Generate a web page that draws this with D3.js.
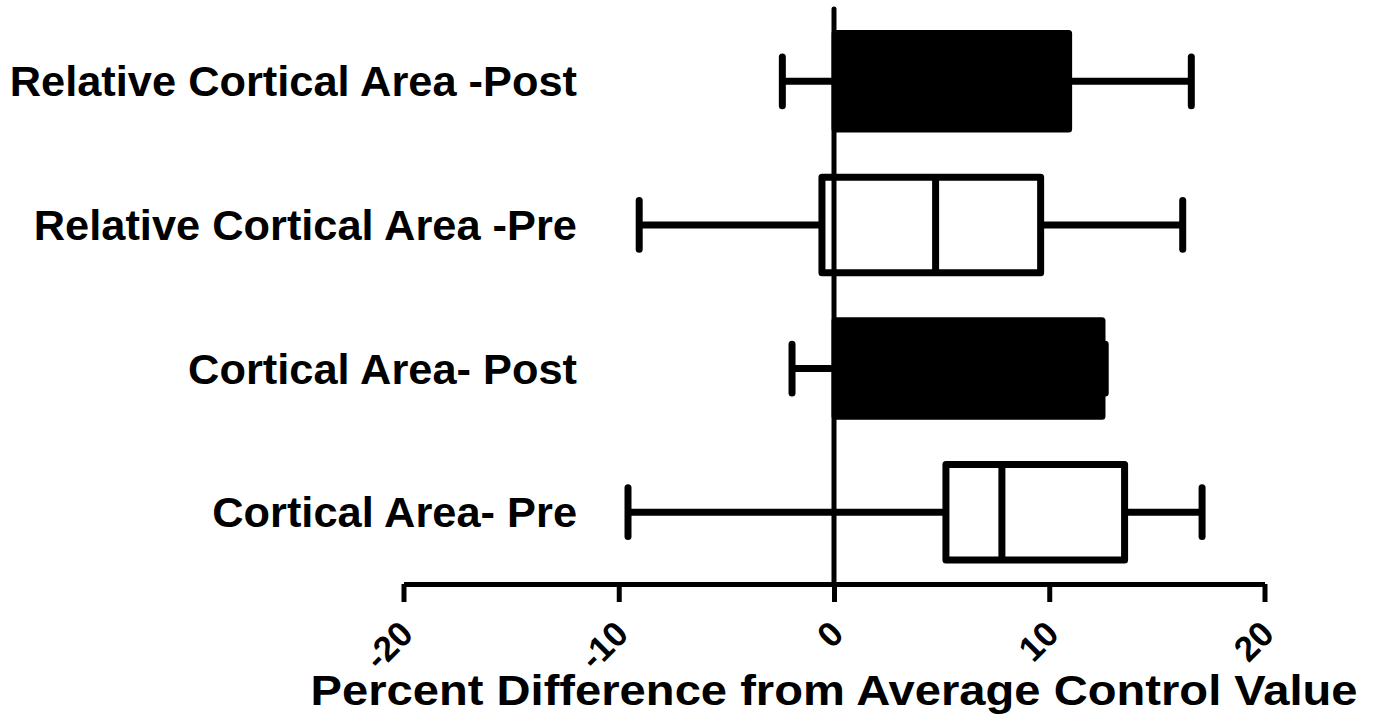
<!DOCTYPE html>
<html>
<head>
<meta charset="utf-8">
<script src="https://cdn.jsdelivr.net/npm/d3@7/dist/d3.min.js"></script>
<style>
  html, body { margin: 0; padding: 0; background: #fff; }
  svg { display: block; }
  text { font-family: "Liberation Sans", Arial, sans-serif; font-weight: bold; fill: #000; }
</style>
</head>
<body>
<svg id="chart" width="1376" height="723"></svg>
<script>
// ---- data (top to bottom) ----
const categories = [
  "Relative Cortical Area -Post",
  "Relative Cortical Area -Pre",
  "Cortical Area- Post",
  "Cortical Area- Pre"
];
const filled   = [true, false, true, false];
const minVals  = [-2.4, -9.05, -1.95, -9.57];
const q1Vals   = [0.05, -0.56, 0.05, 5.2];
const medVals  = [5.5, 4.72, 6.5, 7.8];
const q3Vals   = [10.9, 9.6, 12.45, 13.5];
const maxVals  = [16.6, 16.2, 12.6, 17.1];
const tickVals = [-20, -10, 0, 10, 20];
const xTitle = "Percent Difference from Average Control Value";

const svg = d3.select("#chart");

const x = d3.scaleLinear().domain([-20, 20]).range([403.5, 1264.5]);
const y = d3.scaleBand().domain(categories).range([9.5, 584]).padding(0);
const axisY = 584;

const boxH = y.bandwidth() * 0.665;
const capH = y.bandwidth() * 0.34;
const lw = 7;

const data = categories.map((c, i) => ({
  cat: c, filled: filled[i], min: minVals[i], q1: q1Vals[i],
  med: medVals[i], q3: q3Vals[i], max: maxVals[i]
}));

// whiskers (behind boxes)
const g = svg.append("g");
data.forEach(d => {
  const cy = y(d.cat) + y.bandwidth() / 2;
  const gg = g.append("g")
    .attr("stroke", "#000").attr("stroke-width", lw)
    .attr("stroke-linecap", "round").attr("fill", "none");
  gg.append("line").attr("x1", x(d.min)).attr("x2", x(d.q1))
    .attr("y1", cy).attr("y2", cy).attr("stroke-linecap", "butt");
  gg.append("line").attr("x1", x(d.q3)).attr("x2", x(d.max))
    .attr("y1", cy).attr("y2", cy).attr("stroke-linecap", "butt");
  gg.append("line").attr("x1", x(d.min)).attr("x2", x(d.min))
    .attr("y1", cy - capH / 2).attr("y2", cy + capH / 2);
  gg.append("line").attr("x1", x(d.max)).attr("x2", x(d.max))
    .attr("y1", cy - capH / 2).attr("y2", cy + capH / 2);
});

// zero line
svg.append("line")
  .attr("x1", x(0)).attr("x2", x(0))
  .attr("y1", 9).attr("y2", axisY)
  .attr("stroke", "#000").attr("stroke-width", 5)
  .attr("stroke-linecap", "round");

// boxes
data.forEach(d => {
  const cy = y(d.cat) + y.bandwidth() / 2;
  g.append("rect")
    .attr("x", x(d.q1)).attr("y", cy - boxH / 2)
    .attr("width", x(d.q3) - x(d.q1)).attr("height", boxH)
    .attr("fill", d.filled ? "#000" : "#fff")
    .attr("stroke", "#000").attr("stroke-width", lw)
    .attr("stroke-linejoin", "round");
  svg.append("line")
    .attr("x1", x(d.med)).attr("x2", x(d.med))
    .attr("y1", cy - boxH / 2).attr("y2", cy + boxH / 2)
    .attr("stroke", "#000").attr("stroke-width", lw);
});

// category labels (slightly wide glyphs, as in the original)
svg.append("g")
  .attr("transform", "translate(577,0) scale(1.033,1)")
  .selectAll("text").data(categories).join("text")
  .attr("x", 0)
  .attr("y", d => y(d) + y.bandwidth() / 2 + 15)
  .attr("text-anchor", "end")
  .attr("font-size", 42)
  .text(d => d);

// x axis
const axis = d3.axisBottom(x).tickValues(tickVals).tickSize(18).tickSizeOuter(0)
  .tickFormat(d3.format("d"));
const ax = svg.append("g").attr("transform", `translate(0,${axisY})`).call(axis);
ax.select(".domain").attr("stroke", "#000").attr("stroke-width", 5);
ax.selectAll(".tick line").attr("stroke", "#000").attr("stroke-width", 5);
ax.selectAll(".tick text")
  .attr("font-size", 35)
  .attr("font-family", "Liberation Sans, Arial, sans-serif")
  .attr("font-weight", "bold")
  .attr("fill", "#000")
  .attr("text-anchor", "end")
  .attr("y", 0).attr("dy", 0)
  .attr("transform", "translate(11,52) rotate(-45)")
  .text(d => d < 0 ? "-" + Math.abs(d) : String(d));

// x title
svg.append("text")
  .attr("x", (x(-20) + x(20)) / 2)
  .attr("y", 705)
  .attr("text-anchor", "middle")
  .attr("font-size", 42)
  .attr("textLength", 1047)
  .attr("lengthAdjust", "spacingAndGlyphs")
  .text(xTitle);
</script>
</body>
</html>
